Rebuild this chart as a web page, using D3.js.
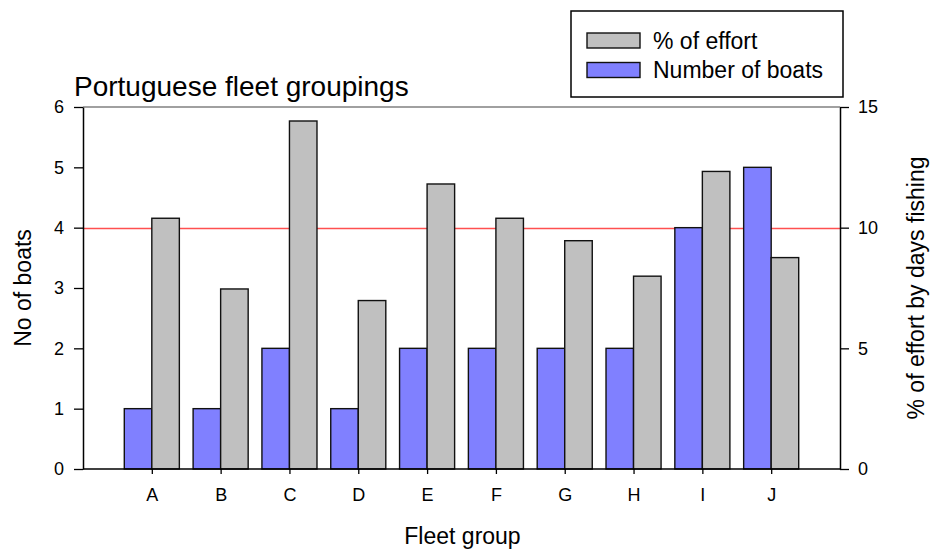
<!DOCTYPE html>
<html>
<head>
<meta charset="utf-8">
<script src="https://cdn.jsdelivr.net/npm/d3@7"></script>
<style>
  body { margin: 0; background: #fff; }
  svg { display: block; }
  text { font-family: "Liberation Sans", Arial, sans-serif; fill: #000; }
</style>
</head>
<body>
<svg id="chart" width="931" height="551"></svg>
<script>
const categories = ["A", "B", "C", "D", "E", "F", "G", "H", "I", "J"];
const numberOfBoats = [1, 1, 2, 1, 2, 2, 2, 2, 4, 5];
const pctEffort = [10.39, 7.46, 14.42, 6.98, 11.81, 10.39, 9.46, 7.99, 12.33, 8.76];
const leftTicks = [0, 1, 2, 3, 4, 5, 6];
const rightTicks = [0, 5, 10, 15];
const referenceLineBoats = 4;

const W = 931, H = 551;
const m = { left: 83, right: 91, top: 107, bottom: 82 };
const svg = d3.select("#chart");

const x = d3.scalePoint().domain(categories).range([m.left, W - m.right]).padding(1);
const yL = d3.scaleLinear().domain([0, 6]).range([H - m.bottom, m.top]);
const yR = d3.scaleLinear().domain([0, 15]).range([H - m.bottom, m.top]);
const bw = x.step() * 0.4;

// top frame line (gray)
svg.append("line")
  .attr("x1", m.left).attr("x2", W - m.right)
  .attr("y1", m.top).attr("y2", m.top)
  .attr("stroke", "#808080").attr("stroke-width", 1.5);

// reference line
svg.append("line")
  .attr("x1", m.left).attr("x2", W - m.right)
  .attr("y1", Math.round(yL(referenceLineBoats)) + 0.5).attr("y2", Math.round(yL(referenceLineBoats)) + 0.5)
  .attr("stroke", "#ff5050").attr("stroke-width", 1.5);

// bars: number of boats
svg.append("g").selectAll("rect").data(categories).join("rect")
  .attr("x", d => x(d) - bw)
  .attr("y", (d, i) => yL(numberOfBoats[i]))
  .attr("width", bw)
  .attr("height", (d, i) => yL(0) - yL(numberOfBoats[i]))
  .attr("fill", "#8080ff").attr("stroke", "#111").attr("stroke-width", 1.4);

// bars: % effort
svg.append("g").selectAll("rect").data(categories).join("rect")
  .attr("x", d => x(d))
  .attr("y", (d, i) => yR(pctEffort[i]))
  .attr("width", bw)
  .attr("height", (d, i) => yR(0) - yR(pctEffort[i]))
  .attr("fill", "#c0c0c0").attr("stroke", "#111").attr("stroke-width", 1.4);

function styleAxis(g) {
  g.select(".domain").attr("stroke", "#000").attr("stroke-width", 1.5);
  g.selectAll(".tick line").attr("stroke", "#000").attr("stroke-width", 1.3);
  g.selectAll(".tick text").attr("font-size", 18).attr("font-family", "Liberation Sans, Arial, sans-serif");
}

// left axis
svg.append("g").attr("transform", `translate(${m.left},0)`)
  .call(d3.axisLeft(yL).tickValues(leftTicks).tickSize(9).tickSizeOuter(0).tickPadding(10).tickFormat(d3.format("d")))
  .call(styleAxis);

// right axis
svg.append("g").attr("transform", `translate(${W - m.right},0)`)
  .call(d3.axisRight(yR).tickValues(rightTicks).tickSize(9).tickSizeOuter(0).tickPadding(9).tickFormat(d3.format("d")))
  .call(styleAxis);

// bottom axis
svg.append("g").attr("transform", `translate(0,${H - m.bottom})`)
  .call(d3.axisBottom(x).tickSize(5).tickSizeOuter(0).tickPadding(14))
  .call(styleAxis)
  .call(g => g.select(".domain").attr("d", `M${m.left},0H${W - m.right}`));

// title
svg.append("text").attr("x", 74).attr("y", 96)
  .attr("font-size", 28).text("Portuguese fleet groupings");

// axis titles
svg.append("text").attr("x", (m.left + W - m.right) / 2 + 1).attr("y", 544)
  .attr("text-anchor", "middle").attr("font-size", 23).text("Fleet group");

svg.append("text")
  .attr("transform", `translate(31,${(m.top + H - m.bottom) / 2}) rotate(-90)`)
  .attr("text-anchor", "middle").attr("font-size", 23).text("No of boats");

svg.append("text")
  .attr("transform", `translate(924,${(m.top + H - m.bottom) / 2}) rotate(-90)`)
  .attr("text-anchor", "middle").attr("font-size", 23).text("% of effort by days fishing");

// legend
const lg = svg.append("g");
lg.append("rect").attr("x", 571).attr("y", 11).attr("width", 272).attr("height", 86)
  .attr("fill", "#fff").attr("stroke", "#000").attr("stroke-width", 1.5);
const legendItems = [
  { label: "% of effort", color: "#c0c0c0" },
  { label: "Number of boats", color: "#8080ff" }
];
legendItems.forEach((it, i) => {
  const cy = 40.5 + i * 29.5;
  lg.append("rect").attr("x", 587).attr("y", cy - 7.5).attr("width", 53).attr("height", 15)
    .attr("fill", it.color).attr("stroke", "#111").attr("stroke-width", 1.4);
  lg.append("text").attr("x", 653).attr("y", cy + 8).attr("font-size", 23).text(it.label);
});
</script>
</body>
</html>
